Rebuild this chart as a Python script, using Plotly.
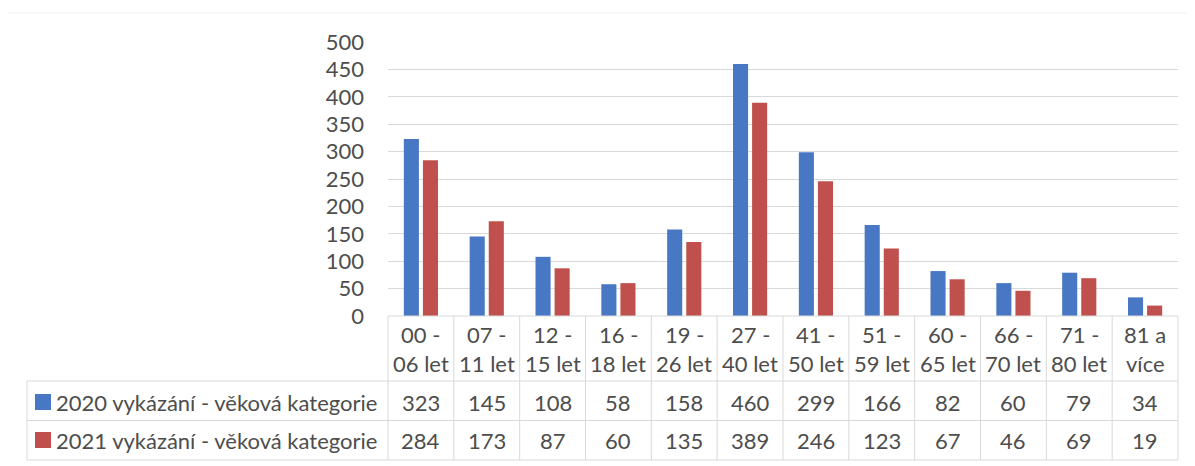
import plotly.graph_objects as go

# ---------------- data ----------------
categories = ["00 -<br>06 let", "07 -<br>11 let", "12 -<br>15 let", "16 -<br>18 let",
              "19 -<br>26 let", "27 -<br>40 let", "41 -<br>50 let", "51 -<br>59 let",
              "60 -<br>65 let", "66 -<br>70 let", "71 -<br>80 let", "81 a<br>více"]
series_names = ["2020 vykázání - věková kategorie", "2021 vykázání - věková kategorie"]
values_2020 = [323, 145, 108, 58, 158, 460, 299, 166, 82, 60, 79, 34]
values_2021 = [284, 173, 87, 60, 135, 389, 246, 123, 67, 46, 69, 19]
y_ticks = [0, 50, 100, 150, 200, 250, 300, 350, 400, 450, 500]

# ---------------- style ----------------
OFF = 8  # default page body margin
W, H = 1195 - OFF, 466 - OFF
L, R, T, B = 388 - OFF, 1178 - OFF, 42 - OFF, 316 - OFF  # plot area in pixels
FONT = "Lato"
FS = 22
TXT = "#4d4d4d"
GRID = "#d9d9d9"
colors = ["#4878c4", "#c0504d"]


def px(xp):
    return (xp - OFF - L) / (R - L)


def py(yp):
    return (B - (yp - OFF)) / (B - T)


fig = go.Figure()
for name, vals, c in zip(series_names, [values_2020, values_2021], colors):
    fig.add_trace(go.Bar(x=categories, y=vals, name=name, marker_color=c,
                         marker_line_width=0, showlegend=False))

shapes = []
line = dict(color=GRID, width=1)
# horizontal table lines
for yp in [381, 420.5, 460]:
    shapes.append(dict(type="line", xref="paper", yref="paper",
                       x0=px(27), x1=1, y0=py(yp), y1=py(yp), line=line))
shapes.append(dict(type="line", xref="paper", yref="paper",
                   x0=0, x1=1, y0=0, y1=0, line=line))
# vertical table lines
n = len(categories)
for k in range(n + 1):
    shapes.append(dict(type="line", xref="paper", yref="paper",
                       x0=k / n, x1=k / n, y0=0, y1=py(460), line=line))
shapes.append(dict(type="line", xref="paper", yref="paper",
                   x0=px(27), x1=px(27), y0=py(381), y1=py(460), line=line))
# faint outer top border
shapes.append(dict(type="line", xref="paper", yref="paper",
                   x0=px(8), x1=px(1195), y0=py(13), y1=py(13),
                   line=dict(color="#efefef", width=1)))
# legend keys
for c, yc in zip(colors, [402, 440]):
    shapes.append(dict(type="rect", xref="paper", yref="paper",
                       x0=px(35), x1=px(51), y0=py(yc - 8), y1=py(yc + 8),
                       fillcolor=c, line_width=0))

annotations = []
font = dict(family=FONT, size=FS, color=TXT)
# category header
for cat in categories:
    parts = cat.split("<br>")
    for part, yc in zip(parts, [334, 363]):
        annotations.append(dict(x=cat, xref="x", y=py(yc), yref="paper",
                                text=part, showarrow=False, font=font,
                                xanchor="center", yanchor="middle"))
# values
for vals, yc in zip([values_2020, values_2021], [402, 440]):
    for cat, v in zip(categories, vals):
        annotations.append(dict(x=cat, xref="x", y=py(yc), yref="paper",
                                text=str(v), showarrow=False, font=font,
                                xanchor="center", yanchor="middle"))
# series names
for name, yc in zip(series_names, [402, 440]):
    annotations.append(dict(x=px(54), xref="paper", y=py(yc), yref="paper",
                            text=name, showarrow=False, font=font,
                            xanchor="left", yanchor="middle"))

fig.update_layout(
    width=W, height=H,
    margin=dict(l=L, r=W - R, t=T, b=H - B, pad=0),
    paper_bgcolor="white", plot_bgcolor="white",
    barmode="group", bargap=0.42, bargroupgap=0.21,
    font=dict(family=FONT, size=FS, color=TXT),
    xaxis=dict(showticklabels=False, showgrid=False, showline=False,
               zeroline=False, ticks="", range=[-0.5, n - 0.5],
               type="category", categoryorder="array", categoryarray=categories),
    yaxis=dict(range=[0, 500], tickvals=y_ticks, showgrid=True, gridcolor=GRID,
               gridwidth=1, zeroline=False, showline=False, ticks="",
               ticklabelstandoff=23, tickfont=font),
    shapes=shapes, annotations=annotations,
)

fig.write_html("out.html")
